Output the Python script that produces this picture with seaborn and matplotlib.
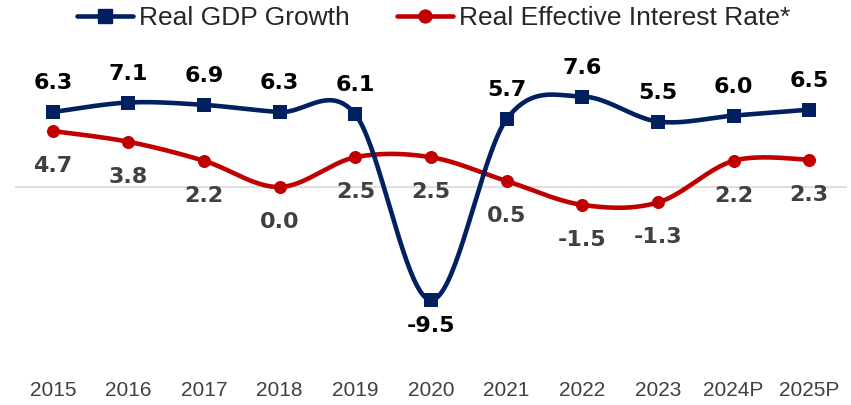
import numpy as np
import pandas as pd
import matplotlib
matplotlib.use("Agg")
import matplotlib.pyplot as plt
import seaborn as sns
from matplotlib.lines import Line2D

# ---- data ----
years = ["2015", "2016", "2017", "2018", "2019", "2020", "2021", "2022", "2023", "2024P", "2025P"]
gdp_growth = [6.3, 7.1, 6.9, 6.3, 6.1, -9.5, 5.7, 7.6, 5.5, 6.0, 6.5]
interest_rate = [4.7, 3.8, 2.2, 0.0, 2.5, 2.5, 0.5, -1.5, -1.3, 2.2, 2.3]

NAVY = "#002060"
RED = "#C00000"
LABEL_GRAY = "#404040"


def catmull_rom(values, n=40):
    """Excel-style smoothed line through the data points (rendering only)."""
    pts = np.column_stack([np.arange(len(values), dtype=float), np.asarray(values, float)])
    out = []
    for i in range(len(pts) - 1):
        p0 = pts[i - 1] if i > 0 else pts[i]
        p1, p2 = pts[i], pts[i + 1]
        p3 = pts[i + 2] if i + 2 < len(pts) else pts[i + 1]
        c1 = p1 + (p2 - p0) / 6.0
        c2 = p2 - (p3 - p1) / 6.0
        t = np.linspace(0, 1, n, endpoint=(i == len(pts) - 2))[:, None]
        seg = ((1 - t) ** 3) * p1 + 3 * ((1 - t) ** 2) * t * c1 + 3 * (1 - t) * t ** 2 * c2 + t ** 3 * p2
        out.append(seg)
    out = np.vstack(out)
    return out[:, 0], out[:, 1]


sns.set_theme(style="white")
plt.rcParams["font.family"] = ["Liberation Sans", "DejaVu Sans"]

W, H = 851, 405
fig = plt.figure(figsize=(W / 100, H / 100), dpi=100)
# plot area in pixels: x 15..847, y 0..375
ax = fig.add_axes([15 / W, (H - 375) / H, (847 - 15) / W, 375 / H])
ax.set_facecolor("white")

px_per_unit = 11.9
zero_y = 187
ax.set_ylim((zero_y - 375) / px_per_unit, zero_y / px_per_unit)
ax.set_xlim(-0.5, len(years) - 0.5)

ax.axhline(0, color="#D9D9D9", lw=1.2, zorder=1)

df = pd.DataFrame({"idx": np.arange(len(years)), "year": years,
                   "gdp": gdp_growth, "rate": interest_rate})

# smoothed lines
gx, gy = catmull_rom(gdp_growth)
rx, ry = catmull_rom(interest_rate)
sns.lineplot(x=rx, y=ry, sort=False, estimator=None, color=RED, lw=3.3, ax=ax, zorder=3)
sns.lineplot(x=gx, y=gy, sort=False, estimator=None, color=NAVY, lw=3.3, ax=ax, zorder=5)

# markers
sns.scatterplot(data=df, x="idx", y="rate", marker="o", s=88, color=RED, linewidth=0, ax=ax, zorder=4)
sns.scatterplot(data=df, x="idx", y="gdp", marker="s", s=95, color=NAVY, linewidth=0, ax=ax, zorder=6)

# data labels
pt = 72 / 100  # px -> points
for i, v in enumerate(gdp_growth):
    off = -26 if v < 0 else 29
    ax.annotate(f"{v:.1f}", (i, v), xytext=(0, off * pt), textcoords="offset points",
                ha="center", va="center", fontsize=16, fontweight="bold",
                family="DejaVu Sans", color="black", zorder=7)
for i, v in enumerate(interest_rate):
    ax.annotate(f"{v:.1f}", (i, v), xytext=(0, -35 * pt), textcoords="offset points",
                ha="center", va="center", fontsize=16, fontweight="bold",
                family="DejaVu Sans", color=LABEL_GRAY, zorder=7)

# axes styling
ax.set_xticks(df["idx"])
ax.set_xticklabels(years, fontsize=15, color=LABEL_GRAY)
ax.set_yticks([])
ax.tick_params(axis="x", length=0, pad=4)
ax.set_xlabel("")
ax.set_ylabel("")
for s in ax.spines.values():
    s.set_visible(False)

# legend
handles = [
    Line2D([], [], color=NAVY, lw=3.3, marker="s", markersize=9.5),
    Line2D([], [], color=RED, lw=3.3, marker="o", markersize=9.3),
]
leg = fig.legend(handles, ["Real GDP Growth", "Real Effective Interest Rate*"],
                 loc="center", bbox_to_anchor=(434 / W, 1 - 18 / H), ncol=2, frameon=False,
                 fontsize=19, handlelength=2.1, handletextpad=0.25, columnspacing=1.8,
                 borderaxespad=0, borderpad=0)

fig.savefig("out.png", dpi=100, facecolor="white")
